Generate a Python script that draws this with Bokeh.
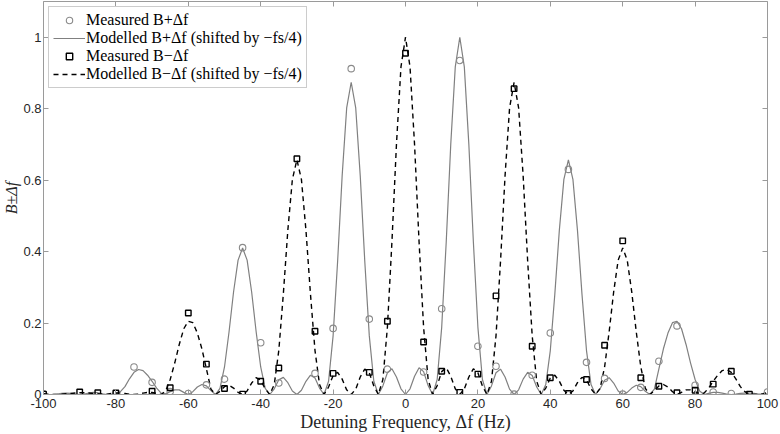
import numpy as np
from bokeh.plotting import figure
from bokeh.models import (Range1d, FixedTicker, LinearAxis, Legend, LegendItem,
                          CustomJSTickFormatter)
from bokeh.embed import file_html
from bokeh.resources import INLINE

# ---------------- data ----------------
# modelled curves sampled every 1.25 Hz from -100 to 100 Hz (values read off the picture)
model_start, model_step = -100.0, 1.25

model_plus = [
    0.001, 0.0, 0.0, 0.001, 0.003, 0.004, 0.003, 0.001,
    0.0, 0.001, 0.004, 0.006, 0.005, 0.002, 0.0, 0.0,
    0.001, 0.008, 0.022, 0.044, 0.062, 0.070, 0.067, 0.054,
    0.037, 0.018, 0.004, 0.002, 0.008, 0.013, 0.013, 0.006,
    0.0, 0.008, 0.021, 0.028, 0.024, 0.011, 0.0, 0.017,
    0.077, 0.175, 0.287, 0.376, 0.410, 0.376, 0.287, 0.175,
    0.077, 0.017, 0.0, 0.016, 0.041, 0.048, 0.033, 0.010,
    0.0, 0.012, 0.037, 0.054, 0.046, 0.018, 0.0, 0.037,
    0.164, 0.373, 0.612, 0.802, 0.874, 0.802, 0.612, 0.373,
    0.164, 0.037, 0.0, 0.024, 0.061, 0.072, 0.049, 0.016,
    0.0, 0.016, 0.051, 0.075, 0.064, 0.025, 0.0, 0.042,
    0.188, 0.427, 0.700, 0.917, 1.000, 0.917, 0.700, 0.427,
    0.188, 0.042, 0.0, 0.024, 0.061, 0.071, 0.049, 0.015,
    0.0, 0.013, 0.043, 0.062, 0.053, 0.021, 0.0, 0.028,
    0.123, 0.281, 0.460, 0.602, 0.657, 0.602, 0.460, 0.281,
    0.123, 0.028, 0.0, 0.016, 0.040, 0.047, 0.032, 0.010,
    0.0, 0.006, 0.018, 0.026, 0.022, 0.009, 0.0, 0.015,
    0.072, 0.128, 0.172, 0.201, 0.205, 0.184, 0.140, 0.088,
    0.042, 0.010, 0.0, 0.003, 0.006, 0.006, 0.004, 0.001,
    0.0, 0.001, 0.003, 0.004, 0.004, 0.003, 0.001, 0.001,
    0.002,
]

model_minus = [
    0.002, 0.001, 0.0, 0.0, 0.001, 0.002, 0.003, 0.004,
    0.005, 0.005, 0.004, 0.003, 0.002, 0.001, 0.001, 0.003,
    0.004, 0.004, 0.003, 0.001, 0.0, 0.001, 0.004, 0.006,
    0.006, 0.003, 0.0, 0.010, 0.042, 0.088, 0.140, 0.184,
    0.205, 0.201, 0.172, 0.128, 0.072, 0.015, 0.0, 0.009,
    0.022, 0.026, 0.018, 0.006, 0.0, 0.010, 0.032, 0.047,
    0.040, 0.016, 0.0, 0.028, 0.123, 0.281, 0.460, 0.602,
    0.657, 0.602, 0.460, 0.281, 0.123, 0.028, 0.0, 0.021,
    0.053, 0.062, 0.043, 0.013, 0.0, 0.015, 0.049, 0.071,
    0.061, 0.024, 0.0, 0.042, 0.188, 0.427, 0.700, 0.917,
    1.000, 0.917, 0.700, 0.427, 0.188, 0.042, 0.0, 0.025,
    0.064, 0.075, 0.051, 0.016, 0.0, 0.016, 0.049, 0.072,
    0.061, 0.024, 0.0, 0.037, 0.164, 0.373, 0.612, 0.802,
    0.874, 0.802, 0.612, 0.373, 0.164, 0.037, 0.0, 0.018,
    0.046, 0.054, 0.037, 0.012, 0.0, 0.010, 0.033, 0.048,
    0.041, 0.016, 0.0, 0.017, 0.077, 0.175, 0.287, 0.376,
    0.410, 0.376, 0.287, 0.175, 0.077, 0.017, 0.0, 0.011,
    0.024, 0.028, 0.021, 0.008, 0.0, 0.006, 0.013, 0.013,
    0.008, 0.002, 0.004, 0.018, 0.037, 0.054, 0.067, 0.070,
    0.062, 0.044, 0.022, 0.008, 0.001, 0.0, 0.0, 0.002,
    0.005,
]

meas_plus_f = [-100, -80, -75, -70, -65, -60, -55, -50, -45, -40, -35, -25, -20, -15,
               -10, -5, 5, 10, 15, 20, 25, 30, 35, 40, 45, 50, 55, 60, 65, 70, 75,
               80, 85, 90, 100]
meas_plus = [0.002, 0.003, 0.077, 0.034, 0.008, 0.003, 0.027, 0.043, 0.411, 0.145,
             0.032, 0.059, 0.185, 0.912, 0.211, 0.071, 0.063, 0.240, 0.935, 0.135,
             0.079, 0.001, 0.054, 0.172, 0.630, 0.090, 0.045, 0.001, 0.020, 0.093,
             0.192, 0.026, 0.007, 0.003, 0.007]

meas_minus_f = [-100, -90, -85, -80, -70, -65, -60, -55, -50, -45, -40, -35, -30, -25,
                -20, -10, -5, 0, 5, 10, 15, 20, 25, 30, 35, 40, 45, 50, 55, 60, 65,
                70, 75, 80, 85, 90, 95]
meas_minus = [0.001, 0.007, 0.005, 0.004, 0.009, 0.019, 0.228, 0.085, 0.017, 0.001,
              0.037, 0.074, 0.660, 0.177, 0.059, 0.062, 0.205, 0.955, 0.147, 0.065,
              0.006, 0.057, 0.276, 0.856, 0.135, 0.047, 0.003, 0.042, 0.138, 0.430,
              0.047, 0.023, 0.005, 0.012, 0.029, 0.065, 0.001]

x_ticks = [-100, -80, -60, -40, -20, 0, 20, 40, 60, 80, 100]
y_ticks = [0, 0.2, 0.4, 0.6, 0.8, 1]
y_tick_labels = ["0", "0.2", "0.4", "0.6", "0.8", "1"]

legend_labels = ["Measured B+Δf", "Modelled B+Δf (shifted by −fs/4)",
                 "Measured B−Δf", "Modelled B−Δf (shifted by −fs/4)"]
x_title = "Detuning Frequency, Δf (Hz)"
y_title = "B±Δf"

model_f = model_start + model_step * np.arange(len(model_plus))

# ---------------- figure ----------------
AXIS_C = "#9a9a9a"
LABEL_C = "#262626"
SERIF = "Liberation Serif"
SANS = "Liberation Sans"

p = figure(width=780, height=434, output_backend="svg", toolbar_location=None,
           x_range=Range1d(-100, 100), y_range=Range1d(0, 1.1),
           min_border_left=41, min_border_right=13, min_border_top=1,
           min_border_bottom=40, x_axis_location=None, y_axis_location=None)
p.outline_line_color = None
p.xgrid.visible = False
p.ygrid.visible = False
p.background_fill_color = "white"
p.border_fill_color = "white"


def style_axis(ax, show_labels):
    ax.axis_line_color = AXIS_C
    ax.major_tick_line_color = AXIS_C
    ax.minor_tick_line_color = None
    ax.major_tick_in = 5
    ax.major_tick_out = 0
    if show_labels:
        ax.major_label_text_font = SANS
        ax.major_label_text_font_size = "13px"
        ax.major_label_text_color = LABEL_C
    else:
        ax.major_label_text_font_size = "0px"
        ax.major_label_standoff = 0
        ax.formatter = CustomJSTickFormatter(code="return ''")


xb = LinearAxis(ticker=FixedTicker(ticks=x_ticks))
style_axis(xb, True)
xb.major_label_standoff = 4
xb.major_label_overrides = {t: str(t) for t in x_ticks}
xb.axis_label = x_title
xb.axis_label_text_font = SERIF
xb.axis_label_text_font_size = "18px"
xb.axis_label_text_font_style = "normal"
xb.axis_label_text_color = LABEL_C
xb.axis_label_standoff = 1
p.add_layout(xb, "below")

yl = LinearAxis(ticker=FixedTicker(ticks=y_ticks))
style_axis(yl, True)
yl.major_label_standoff = 2
yl.major_label_overrides = {t: s for t, s in zip(y_ticks, y_tick_labels)}
yl.axis_label = y_title
yl.axis_label_text_font = SERIF
yl.axis_label_text_font_size = "16px"
yl.axis_label_text_font_style = "italic"
yl.axis_label_text_color = LABEL_C
yl.axis_label_standoff = 0
p.add_layout(yl, "left")

xt = LinearAxis(ticker=FixedTicker(ticks=x_ticks))
style_axis(xt, False)
p.add_layout(xt, "above")

yr = LinearAxis(ticker=FixedTicker(ticks=y_ticks))
style_axis(yr, False)
p.add_layout(yr, "right")

# curves
r_mp = p.line(model_f, model_plus, line_color="#808080", line_width=1.2)
r_mm = p.line(model_f, model_minus, line_color="black", line_width=1.4,
              line_dash="5 4")
# measured points
r_p = p.scatter(meas_plus_f, meas_plus, marker="circle", size=6.5,
                line_color="#8a8a8a", fill_color=None, line_width=1.1)
r_m = p.scatter(meas_minus_f, meas_minus, marker="square", size=5.5,
                line_color="black", fill_color=None, line_width=1.4)

legend = Legend(items=[
    LegendItem(label=legend_labels[0], renderers=[r_p]),
    LegendItem(label=legend_labels[1], renderers=[r_mp]),
    LegendItem(label=legend_labels[2], renderers=[r_m]),
    LegendItem(label=legend_labels[3], renderers=[r_mm]),
], location="top_left")
legend.label_text_font = SERIF
legend.label_text_font_size = "16px"
legend.label_text_color = "black"
legend.glyph_width = 32
legend.glyph_height = 16
legend.label_height = 16
legend.label_standoff = 1
legend.spacing = -2
legend.padding = 4
legend.margin = 5
legend.border_line_color = AXIS_C
legend.border_line_width = 1
legend.background_fill_color = "white"
legend.background_fill_alpha = 1
p.add_layout(legend)

open("out.html", "w").write(file_html(p, INLINE))
